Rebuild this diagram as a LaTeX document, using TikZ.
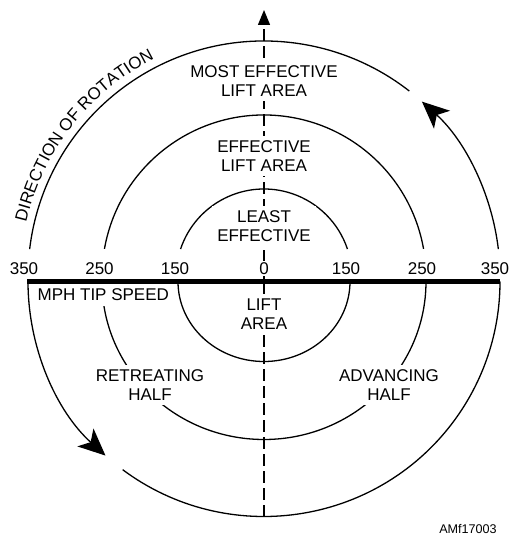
\documentclass[tikz,border=0pt]{standalone}
\usepackage{fontspec}
\setmainfont{Liberation Sans}
\usetikzlibrary{arrows.meta,decorations.text}

\begin{document}
\begin{tikzpicture}[x=0.5pt,y=0.5pt,line width=0.65pt,
	every node/.style={font=\fontsize{8.5}{9.3}\selectfont, align=center},
	lbl/.style={fill=white, inner sep=2.5pt},
	speed/.style={fill=white, inner sep=0.5pt},
	rotarrow/.style={-{Stealth[length=13.5pt,width=12pt,inset=3.5pt]}}]
	\useasboundingbox (0,0) rectangle (511,535);
	\coordinate (U) at (264,258);
	\coordinate (L) at (264,253.5);
	\coordinate (axisbot) at (264,18);
	\coordinate (axistop) at (264,525);
	\coordinate (barL) at (27,253.5);
	\coordinate (barR) at (500,253.5);
	\draw[dash pattern=on 6pt off 2.5pt, -{Triangle[length=7.5pt,width=6pt]}] (axisbot) -- (axistop);
	\draw ([shift={(161.5:88)}]U) arc[start angle=161.5, end angle=18.5, radius=88];
	\draw ([shift={(170:162)}]U) arc[start angle=170, end angle=10, radius=162];
	\draw ([shift={(173.2:236)}]U) arc[start angle=173.2, end angle=52, radius=236];
	\draw[rotarrow] ([shift={(6.8:236)}]U) arc[start angle=6.8, end angle=48, radius=236];
	\draw (L) ++(-86,0) arc[start angle=180, end angle=360, x radius=86, y radius=80];
	\draw (L) ++(-162,0) arc[start angle=180, end angle=360, x radius=162, y radius=158];
	\draw[rotarrow] (L) ++(-236,0) arc[start angle=180, end angle=227.8, x radius=236, y radius=235];
	\draw ([shift={(233.2:236 and 235)}]L) arc[start angle=233.2, end angle=360, x radius=236, y radius=235];
	\draw[line width=2.5pt] (barL) -- (barR);
	\path[decorate, decoration={text along path, text align=left,
		text={|\fontsize{8.5}{9}\selectfont|DIRECTION OF ROTATION}}]
		([shift={(167:244)}]U) arc[start angle=167, end angle=100, radius=244];
	\node[lbl] (most) at (264,454) {MOST EFFECTIVE\\LIFT AREA};
	\node[lbl] (eff) at (264,379) {EFFECTIVE\\LIFT AREA};
	\node[lbl] (least) at (264,309) {LEAST\\EFFECTIVE};
	\node[lbl] (lift) at (264,221) {LIFT\\AREA};
	\node[lbl] (retr) at (150,150) {RETREATING\\HALF};
	\node[lbl] (adv) at (389,150) {ADVANCING\\HALF};
	\node[lbl, anchor=west] (mph) at (32,240) {MPH TIP SPEED};
	\node[speed] (l350) at (24,266.5) {350};
	\node[speed] (l250) at (99.5,266.5) {250};
	\node[speed] (l150) at (175,266.5) {150};
	\node[speed] (zero) at (264,266.5) {0};
	\node[speed] (r150) at (346,266.5) {150};
	\node[speed] (r250) at (422,266.5) {250};
	\node[speed] (r350) at (495,266.5) {350};
	\node[font=\fontsize{6.3}{7}\selectfont] (figno) at (468,6) {AMf17003};
\end{tikzpicture}
\end{document}
